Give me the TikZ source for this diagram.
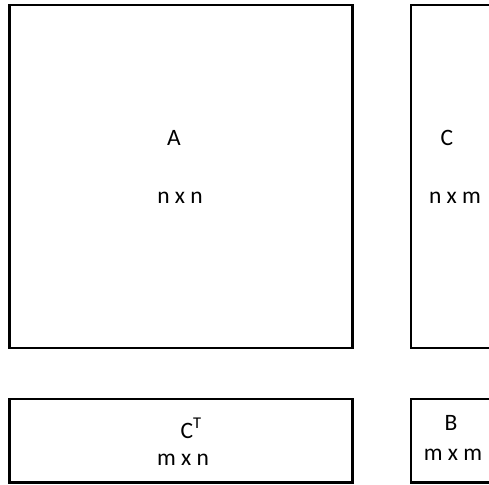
\documentclass[tikz,border=0pt]{standalone}
\usepackage{fontspec}
\setmainfont{Carlito}
\begin{document}
\begin{tikzpicture}[x=1pt,y=-1pt,
  box/.style={draw=black,line width=2.4pt,fill=white,inner sep=0pt,outer sep=0pt,rectangle},
  lbl/.style={inner sep=0pt,anchor=base,font=\fontsize{23.5}{27}\selectfont}]
\clip (0,0) rectangle (489,484);
\fill[white] (0,0) rectangle (489,484);
\node[box,minimum width=343pt,minimum height=343pt] (A) at (181,176.5) {};
\node[box,minimum width=289pt,minimum height=343pt] (C) at (555.5,176.5) {};
\node[box,minimum width=343pt,minimum height=83.5pt] (CT) at (181,440.75) {};
\node[box,minimum width=289pt,minimum height=83.5pt] (B) at (555.5,440.75) {};
\node[lbl] (Aname) at (174,145) {A};
\node[lbl] (Adim) at (180,203) {n x n};
\node[lbl] (Cname) at (447,145) {C};
\node[lbl] (Cdim) at (455,203) {n x m};
\node[lbl,anchor=base west] (CTname) at (180.5,438) {C\textsuperscript{T}};
\node[lbl] (CTdim) at (183,465) {m x n};
\node[lbl] (Bname) at (451,430) {B};
\node[lbl] (Bdim) at (453,460) {m x m};
\end{tikzpicture}
\end{document}
